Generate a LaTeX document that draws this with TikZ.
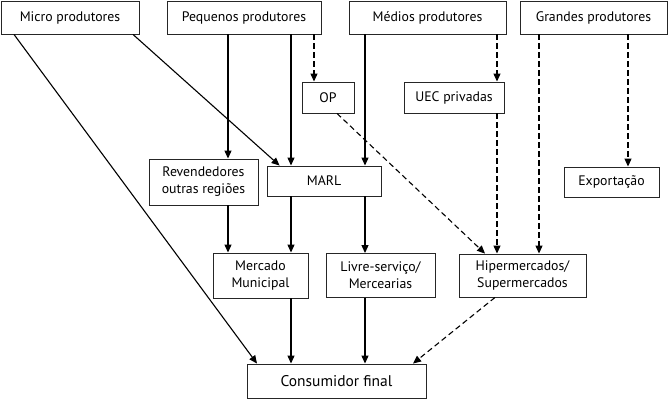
\documentclass[tikz,border=0pt]{standalone}
\usepackage{fontspec}
\setmainfont{PT Sans}
\usetikzlibrary{arrows.meta}
\tikzset{
  box/.style={draw=black!85, line width=0.9pt, align=center, inner sep=0pt,
    font=\fontsize{13.8}{17}\selectfont},
  arr/.style={line width=1.1pt, -{Triangle[length=8pt,width=7pt]}},
  darr/.style={arr, dash pattern=on 5.5pt off 3.5pt},
}
\begin{document}
\begin{tikzpicture}[x=1pt,y=-1pt]
      \useasboundingbox (0,0) rectangle (669,404);
      % producers
      \node[box, minimum width=138pt, minimum height=33pt] (micro) at (70,17.5) {Micro produtores};
      \node[box, minimum width=154pt, minimum height=33pt] (pequenos) at (244,17.5) {Pequenos produtores};
      \node[box, minimum width=157pt, minimum height=33pt] (medios) at (427.5,17.5) {Médios produtores};
      \node[box, minimum width=147pt, minimum height=33pt] (grandes) at (593.5,17.5) {Grandes produtores};
      % middle
      \node[box, minimum width=52pt, minimum height=31pt] (op) at (328,97.5) {OP};
      \node[box, minimum width=100pt, minimum height=31pt] (uec) at (454,97.5) {UEC privadas};
      \node[box, minimum width=109pt, minimum height=46pt] (revend) at (203.5,182) {Revendedores\\outras regiões};
      \node[box, minimum width=114pt, minimum height=30pt] (marl) at (324,181) {MARL};
      \node[box, minimum width=95pt, minimum height=30pt] (export) at (611.5,182) {Exportação};
      % retail
      \node[box, minimum width=95pt, minimum height=45pt] (mercado) at (260.5,275.5) {Mercado\\Municipal};
      \node[box, minimum width=109pt, minimum height=44pt] (livre) at (380.5,275.5) {Livre-serviço/\\Mercearias};
      \node[box, minimum width=127pt, minimum height=43pt] (hiper) at (522.5,275.5) {Hipermercados/\\Supermercados};
      \node[box, minimum width=179pt, minimum height=34pt, font=\fontsize{15.5}{18}\selectfont] (consumidor) at (336.5,381) {Consumidor final};
      % columns of the vertical connectors
      \coordinate (c1) at (228,0);
      \coordinate (c2) at (291,0);
      \coordinate (c3) at (314,0);
      \coordinate (c4) at (365,0);
      \coordinate (c5) at (497,0);
      \coordinate (c6) at (539,0);
      \coordinate (c7) at (628,0);
      \begin{scope}[arr]
        \draw ([xshift=-56pt]micro.south) -- ([xshift=-79.5pt]consumidor.north);
        \draw ([xshift=63pt]micro.south) -- ([xshift=13pt]marl.north west);
        \draw (pequenos.south -| c1) -- (revend.north -| c1);
        \draw (pequenos.south -| c2) -- (marl.north -| c2);
        \draw (medios.south -| c4) -- (marl.north -| c4);
        \draw (revend.south -| c1) -- (mercado.north -| c1);
        \draw (marl.south -| c2) -- (mercado.north -| c2);
        \draw (marl.south -| c4) -- (livre.north -| c4);
        \draw (mercado.south -| c2) -- (consumidor.north -| c2);
        \draw (livre.south -| c4) -- (consumidor.north -| c4);
      \end{scope}
      \begin{scope}[darr]
        \draw (pequenos.south -| c3) -- (op.north -| c3);
        \draw (medios.south -| c5) -- (uec.north -| c5);
        \draw (grandes.south -| c6) -- (hiper.north -| c6);
        \draw (grandes.south -| c7) -- (export.north -| c7);
        \draw (uec.south -| c5) -- (hiper.north -| c5);
        \draw ([xshift=9pt]op.south) -- ([xshift=-37.5pt]hiper.north);
        \draw ([xshift=-27.5pt]hiper.south) -- ([xshift=76.5pt]consumidor.north);
      \end{scope}
    \end{tikzpicture}
\end{document}
